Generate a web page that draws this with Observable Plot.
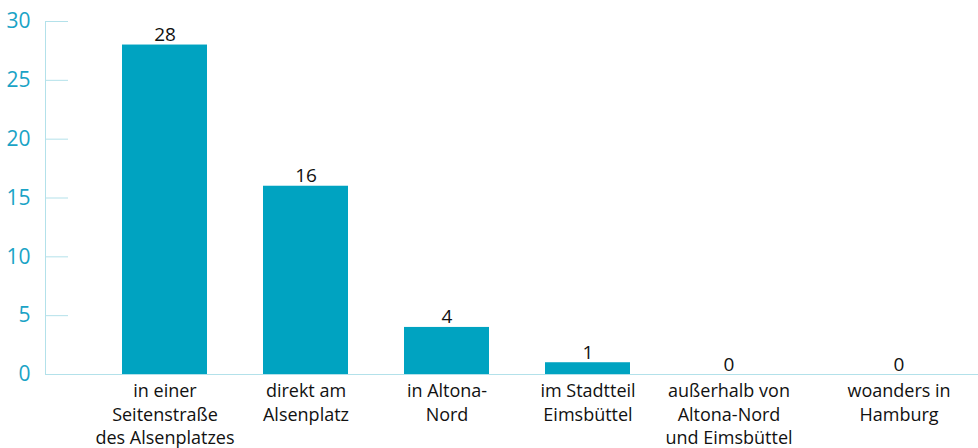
<!DOCTYPE html>
<html><head><meta charset="utf-8">
<script src="https://cdn.jsdelivr.net/npm/d3@7"></script>
<script src="https://cdn.jsdelivr.net/npm/@observablehq/plot@0.6"></script>
<style>body{margin:0;background:#fff}</style>
</head><body><div id="chart"></div>
<script>
const categories = [
  "in einer\nSeitenstraße\ndes Alsenplatzes",
  "direkt am\nAlsenplatz",
  "in Altona-\nNord",
  "im Stadtteil\nEimsbüttel",
  "außerhalb von\nAltona-Nord\nund Eimsbüttel",
  "woanders in\nHamburg"
];
const values = [28, 16, 4, 1, 0, 0];
const yTicks = [0, 5, 10, 15, 20, 25, 30];

const data = categories.map((c, i) => ({cat: c, value: values[i], idx: i}));
const font = "Open Sans, sans-serif";
const barColor = "#00a3c1";
const lineColor = "#b3e1ea";
const main = data.filter(d => d.idx < 5);
const last = data.filter(d => d.idx === 5);

const chart = Plot.plot({
  width: 978, height: 448,
  marginTop: 21, marginBottom: 74, marginLeft: 45, marginRight: 0,
  style: {fontFamily: font, fontSize: "17px", background: "#fff"},
  x: {domain: categories, range: [45, 989], paddingInner: 0.4, paddingOuter: 0.537, axis: null},
  y: {domain: [0, 30], axis: null},
  marks: [
    Plot.axisY({ticks: yTicks, tickSize: -23, stroke: lineColor, text: null, label: null}),
    Plot.axisY({ticks: yTicks, tickSize: 0, tickPadding: 15, fill: "#1aa3c6", fontSize: 21, label: null}),
    Plot.frame({anchor: "left", stroke: lineColor}),
    Plot.barY(data, {x: "cat", y: "value", fill: barColor}),
    Plot.ruleY([0], {stroke: lineColor}),
    Plot.text(main, {x: "cat", y: "value", text: d => String(d.value), lineAnchor: "bottom", dy: -4, fill: "#111", fontSize: 19}),
    Plot.text(main, {x: "cat", y: 0, text: "cat", lineAnchor: "top", dy: 6, fill: "#111", fontSize: 18, lineHeight: 1.3}),
    Plot.text(last, {x: "cat", y: 0, text: "cat", lineAnchor: "top", dy: 6, dx: 29, fill: "#111", fontSize: 18, lineHeight: 1.3}),
    Plot.text(last, {x: "cat", y: "value", text: d => String(d.value), lineAnchor: "bottom", dy: -4, dx: 29, fill: "#111", fontSize: 19})
  ]
});
document.getElementById("chart").append(chart);
</script>
</body></html>
